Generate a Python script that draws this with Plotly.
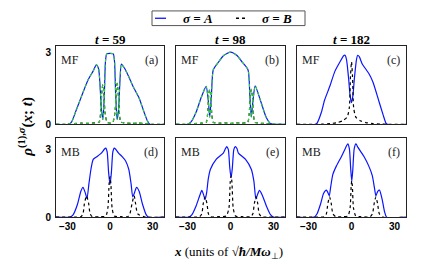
import plotly.graph_objects as go

# ---------------- data ----------------
times = ["59", "98", "182"]
row_labels = ["MF", "MB"]
panel_letters = ["(a)", "(b)", "(c)", "(d)", "(e)", "(f)"]
legend_labels = ["\u03c3 = A", "\u03c3 = B"]
x_ticks = [-30, 0, 30]
x_tick_text = ["\u221230", "0", "30"]
y_ticks = [0, 3]
y_tick_text = ["0", "3"]

# (a) MF, t=59
a_A_x = [-38, -29, -27, -24, -20, -15.4, -12, -9.6, -8, -7, -6, -5, -4, -3.2, -2.3, 0, 2.3, 3.2, 4, 5, 6, 7, 8, 10, 13.2, 16, 20.4, 24, 26.3, 28, 38]
a_A_y = [0, 0, 0.1, 0.55, 1.17, 1.85, 2.2, 2.47, 2.3, 1.6, 0.6, 0.2, 1.2, 2.6, 2.93, 2.95, 2.93, 2.6, 1.2, 0.2, 0.6, 1.8, 2.5, 2.35, 1.98, 1.6, 1.1, 0.5, 0.15, 0, 0]
a_B_x = [-38, -30, -25, -20, -15, -10, -7.5, -6.5, -5.5, -5, -4.5, -3.5, -2, 0, 2, 3.5, 4.5, 5, 5.5, 6.5, 7.5, 10, 15, 20, 25, 30, 38]
a_B_y = [0, 0, 0.03, 0.05, 0.04, 0.06, 0.1, 0.6, 1.5, 1.65, 1.5, 0.5, 0.08, 0.05, 0.08, 0.5, 1.5, 1.7, 1.5, 0.6, 0.1, 0.06, 0.04, 0.05, 0.03, 0, 0]

# (b) MF, t=98
b_A_x = [-38, -30, -27.5, -24, -20.5, -17, -15.5, -14.5, -13.3, -12, -8.2, -4.8, 0, 4.5, 8, 12.2, 13.5, 14.5, 15.7, 17.2, 21, 24.8, 27.5, 30, 38]
b_A_y = [0, 0, 0.1, 0.5, 1.1, 1.58, 1.0, 0.3, 1.2, 2.27, 2.6, 2.86, 3.0, 2.86, 2.6, 2.27, 1.2, 0.3, 1.0, 1.6, 0.97, 0.3, 0.05, 0, 0]
b_B_x = [-38, -30, -25, -20, -17, -16, -15.2, -14.5, -13.8, -13, -12, -8, -4, 0, 4, 8, 12, 13, 13.8, 14.5, 15.2, 16, 17, 20, 25, 30, 38]
b_B_y = [0, 0, 0.03, 0.05, 0.08, 0.4, 1.2, 1.45, 1.2, 0.4, 0.08, 0.05, 0.06, 0.04, 0.06, 0.05, 0.08, 0.4, 1.2, 1.45, 1.2, 0.4, 0.08, 0.05, 0.03, 0, 0]

# (c) MF, t=182
c_A_x = [-38, -25, -24, -21, -18.8, -15, -11.6, -8, -5.5, -4.5, -3.5, -2, -1, 0, 1, 2, 3.5, 4.3, 5.5, 7.4, 12, 15, 19, 22, 24, 25, 38]
c_A_y = [0, 0, 0.05, 0.5, 1.0, 1.6, 2.2, 2.6, 2.85, 2.87, 2.7, 1.9, 1.2, 0.9, 1.2, 1.9, 2.7, 2.87, 2.8, 2.52, 2.12, 1.75, 0.98, 0.4, 0.05, 0, 0]
c_B_x = [-38, -25, -20, -15, -10, -6, -3, -1.5, -0.7, 0, 0.7, 1.5, 3, 6, 10, 15, 20, 25, 38]
c_B_y = [0, 0, 0.01, 0.03, 0.07, 0.15, 0.3, 0.7, 2.0, 2.6, 2.0, 0.7, 0.3, 0.15, 0.07, 0.03, 0.01, 0, 0]

# (d) MB, t=59
d_A_x = [-38, -28, -26, -23, -20.5, -19, -17.5, -16.2, -14.8, -13.4, -11.8, -9, -5.9, -4, -3, -2, -1, 0, 1, 2, 3, 4, 5.9, 8.4, 11, 13.2, 14.8, 16, 17.3, 18.7, 20.5, 23, 25.5, 27, 38]
d_A_y = [0, 0, 0.1, 0.55, 1.15, 1.33, 1.1, 0.83, 1.5, 2.13, 2.57, 2.7, 2.86, 3.02, 3.07, 2.9, 2.0, 1.45, 2.0, 2.9, 3.07, 3.02, 2.86, 2.7, 2.5, 2.13, 1.5, 0.9, 1.1, 1.33, 1.15, 0.55, 0.1, 0, 0]
d_B_x = [-38, -25, -20.5, -19, -18, -16.5, -15, -14, -12.5, -8, -3, -1.5, -0.6, 0, 0.6, 1.5, 3, 8, 12.5, 14, 15.5, 17, 18, 19.5, 25, 38]
d_B_y = [0, 0, 0.02, 0.15, 0.6, 0.95, 0.6, 0.15, 0.02, 0.02, 0.05, 0.4, 1.5, 1.8, 1.5, 0.4, 0.05, 0.02, 0.02, 0.15, 0.6, 0.95, 0.6, 0.15, 0, 0]

# (e) MB, t=98
e_A_x = [-38, -29, -27, -24, -21.5, -20, -18.8, -17.7, -16.6, -15.5, -14, -10, -5, -3.5, -2.6, -1.5, -0.5, 0.4, 1.3, 2.3, 3.3, 4.5, 5.5, 10.5, 14.5, 16.3, 17.7, 18.8, 20.2, 22, 25, 28, 30, 38]
e_A_y = [0, 0, 0.1, 0.5, 0.95, 1.19, 1.0, 0.78, 1.1, 1.7, 2.13, 2.57, 2.85, 3.05, 3.14, 3.0, 2.2, 1.75, 2.2, 3.0, 3.14, 3.05, 2.85, 2.57, 2.13, 1.6, 0.8, 1.0, 1.19, 1.0, 0.5, 0.1, 0, 0]
e_B_x = [-38, -25, -21.5, -20, -19, -17.7, -16.4, -15.4, -14, -8, -3, -1.1, -0.2, 0.4, 1.0, 1.9, 3.5, 8, 14, 15.6, 16.6, 17.9, 19, 20, 21.5, 25, 38]
e_B_y = [0, 0, 0.02, 0.15, 0.6, 0.9, 0.6, 0.15, 0.02, 0.02, 0.05, 0.4, 1.55, 1.84, 1.55, 0.4, 0.05, 0.02, 0.02, 0.15, 0.6, 0.9, 0.6, 0.15, 0.02, 0, 0]

# (f) MB, t=182
f_A_x = [-38, -26, -24, -21.5, -19.5, -17.5, -16.5, -15.5, -14.5, -13, -10.5, -6.9, -4, -2.6, -1.5, -0.5, 0.2, 0.9, 1.9, 3.1, 4.5, 8.6, 12, 14.5, 16, 17, 18.3, 19.5, 21.5, 23, 24.5, 38]
f_A_y = [0, 0, 0.15, 0.6, 1.05, 1.2, 1.1, 0.95, 1.35, 1.9, 2.28, 2.71, 3.1, 3.26, 3.05, 2.1, 1.6, 2.1, 3.05, 3.26, 3.1, 2.71, 2.28, 1.85, 1.3, 0.95, 1.15, 1.2, 0.75, 0.25, 0, 0]
f_B_x = [-38, -25, -19, -17.5, -16.5, -15.3, -14.1, -13, -11, -6, -2.5, -1, -0.2, 0.2, 0.6, 1.4, 3, 6, 13, 14.6, 15.8, 17, 18.2, 19.4, 22, 38]
f_B_y = [0, 0, 0.02, 0.15, 0.6, 0.9, 0.6, 0.15, 0.02, 0.02, 0.05, 0.4, 1.4, 1.62, 1.4, 0.4, 0.05, 0.02, 0.02, 0.15, 0.6, 0.9, 0.6, 0.15, 0, 0]

panels = [
    (a_A_x, a_A_y, a_B_x, a_B_y, True),
    (b_A_x, b_A_y, b_B_x, b_B_y, True),
    (c_A_x, c_A_y, c_B_x, c_B_y, False),
    (d_A_x, d_A_y, d_B_x, d_B_y, False),
    (e_A_x, e_A_y, e_B_x, e_B_y, False),
    (f_A_x, f_A_y, f_B_x, f_B_y, False),
]

# ---------------- styling ----------------
W, H = 432, 265
BLUE = "#0a14ff"
GREEN = "#2ed42e"
SERIF = "Liberation Serif"
SANS = "Liberation Sans"

col_px = [(48, 156), (168, 277), (289, 398)]
row_px = [(39, 119), (133, 214)]
y_ranges = [[0, 3.25], [0, 3.52]]

fig = go.Figure()
layout = dict(
    width=W, height=H, autosize=False,
    margin=dict(l=0, r=0, t=0, b=0),
    paper_bgcolor="white", plot_bgcolor="white",
    showlegend=False,
)

annotations = []
shapes = []
for i, (ax, ay, bx, by, green) in enumerate(panels):
    r, c = divmod(i, 3)
    n = i + 1
    xa = "x" if n == 1 else f"x{n}"
    ya = "y" if n == 1 else f"y{n}"
    xkey = "xaxis" if n == 1 else f"xaxis{n}"
    ykey = "yaxis" if n == 1 else f"yaxis{n}"
    x0, x1 = col_px[c]
    y0, y1 = row_px[r]
    layout[xkey] = dict(
        domain=[x0 / W, x1 / W], range=[-38, 38], anchor=ya,
        showgrid=False, zeroline=False, showline=True, mirror=True,
        linecolor="#222", linewidth=1, ticks="",
        tickvals=x_ticks, ticktext=x_tick_text,
        showticklabels=(r == 1),
        tickfont=dict(family=SANS, size=10, color="black", weight="bold"),
    )
    layout[ykey] = dict(
        domain=[1 - y1 / H, 1 - y0 / H], range=y_ranges[r], anchor=xa,
        showgrid=False, zeroline=False, showline=True, mirror=True,
        linecolor="#222", linewidth=1, ticks="",
        tickvals=y_ticks, ticktext=y_tick_text,
        showticklabels=(c == 0), ticklabelstandoff=2,
        tickfont=dict(family=SANS, size=10, color="black", weight="bold"),
    )
    fig.add_trace(go.Scatter(
        x=ax, y=ay, xaxis=xa, yaxis=ya, mode="lines",
        line=dict(color=BLUE, width=1.2, shape="spline", smoothing=0.6),
        name=legend_labels[0], hoverinfo="skip",
    ))
    fig.add_trace(go.Scatter(
        x=bx, y=by, xaxis=xa, yaxis=ya, mode="lines",
        line=dict(color="black", width=1.2, dash="dot", shape="spline", smoothing=0.6),
        name=legend_labels[1], hoverinfo="skip",
    ))
    if green:
        for gx, gy in ((ax, ay), (bx, by)):
            fig.add_trace(go.Scatter(
                x=gx, y=gy, xaxis=xa, yaxis=ya, mode="lines",
                line=dict(color=GREEN, width=1.1, dash="3px,3px", shape="spline", smoothing=0.6),
                hoverinfo="skip",
            ))
    annotations.append(dict(
        text=row_labels[r], xref=f"{xa} domain", yref=f"{ya} domain",
        x=0.03, y=1 - 14 / 80, xanchor="left", yanchor="middle", showarrow=False,
        font=dict(family=SERIF, size=12, color="#222"),
    ))
    annotations.append(dict(
        text=panel_letters[i], xref=f"{xa} domain", yref=f"{ya} domain",
        x=0.965, y=1 - 14 / 80, xanchor="right", yanchor="middle", showarrow=False,
        font=dict(family=SERIF, size=12, color="#222"),
    ))

for c, t in enumerate(times):
    x0, x1 = col_px[c]
    annotations.append(dict(
        text=f"<b><i>t</i> = {t}</b>", xref="paper", yref="paper",
        x=(x0 + x1) / 2 / W, y=1 - 32 / H, xanchor="center", yanchor="middle",
        showarrow=False, font=dict(family=SERIF, size=13, color="black"),
    ))

annotations.append(dict(
    text="<b><i>\u03c1</i></b><sup><b>(1),<i>\u03c3</i></b></sup><b>(<i>x</i>; <i>t</i>)</b>",
    xref="paper", yref="paper", x=18 / W, y=1 - 121.5 / H,
    xanchor="center", yanchor="middle", textangle=-90, showarrow=False,
    font=dict(family=SERIF, size=15, color="black"),
))
annotations.append(dict(
    text="<b><i>x</i></b> (units of \u221a<b><i>\u0127/M\u03c9</i></b><sub>\u22a5</sub>)",
    xref="paper", yref="paper", x=220 / W, y=1 - 250 / H,
    xanchor="center", yanchor="middle", showarrow=False,
    font=dict(family=SERIF, size=13, color="black"),
))

# legend box (drawn in paper coordinates)
shapes.append(dict(type="rect", xref="paper", yref="paper",
                   x0=144 / W, x1=297 / W, y0=1 - 18 / H, y1=1 - 3 / H,
                   line=dict(color="#555", width=1), fillcolor="white"))
shapes.append(dict(type="line", xref="paper", yref="paper",
                   x0=147 / W, x1=158 / W, y0=1 - 10.5 / H, y1=1 - 10.5 / H,
                   line=dict(color=BLUE, width=1.3)))
shapes.append(dict(type="line", xref="paper", yref="paper",
                   x0=228 / W, x1=238 / W, y0=1 - 10.5 / H, y1=1 - 10.5 / H,
                   line=dict(color="black", width=1.3, dash="dot")))
annotations.append(dict(
    text=f"<b><i>{legend_labels[0]}</i></b>", xref="paper", yref="paper",
    x=190 / W, y=1 - 10.5 / H, xanchor="center", yanchor="middle", showarrow=False,
    font=dict(family=SERIF, size=13, color="black"),
))
annotations.append(dict(
    text=f"<b><i>{legend_labels[1]}</i></b>", xref="paper", yref="paper",
    x=269 / W, y=1 - 10.5 / H, xanchor="center", yanchor="middle", showarrow=False,
    font=dict(family=SERIF, size=13, color="black"),
))

layout["annotations"] = annotations
layout["shapes"] = shapes
fig.update_layout(**layout)
fig.write_html("out.html")
